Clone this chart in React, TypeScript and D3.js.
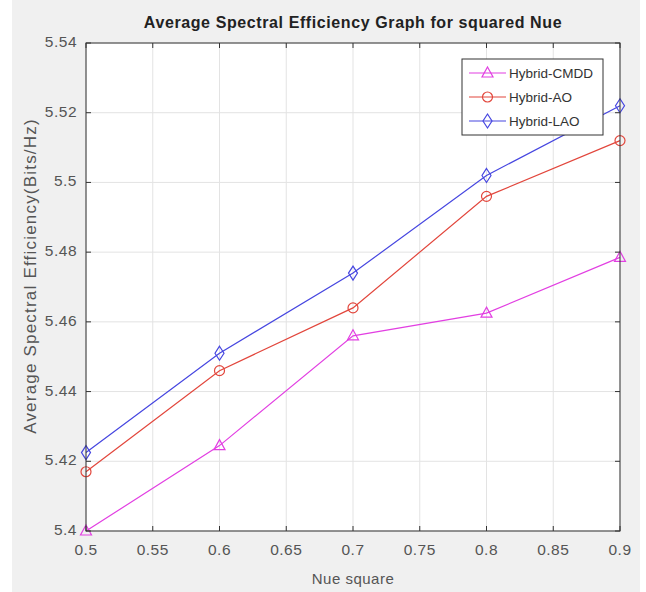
import React from "react";
import * as d3 from "d3";

const xValues = [0.5, 0.6, 0.7, 0.8, 0.9];
const cmdd = [5.4, 5.4245, 5.456, 5.4625, 5.4785];
const ao = [5.417, 5.446, 5.464, 5.496, 5.512];
const lao = [5.4225, 5.451, 5.474, 5.502, 5.522];
const seriesNames = ["Hybrid-CMDD", "Hybrid-AO", "Hybrid-LAO"];
const xTicks = [0.5, 0.55, 0.6, 0.65, 0.7, 0.75, 0.8, 0.85, 0.9];
const yTicks = [5.4, 5.42, 5.44, 5.46, 5.48, 5.5, 5.52, 5.54];

const W = 646, H = 592;
const L = 86, R = 620, T = 43, B = 531;
const FONT = "'Liberation Sans', Arial, sans-serif";

const series = [
  { name: seriesNames[0], values: cmdd, color: "#e23fe2", marker: "tri" },
  { name: seriesNames[1], values: ao, color: "#e2463c", marker: "circle" },
  { name: seriesNames[2], values: lao, color: "#4646e0", marker: "diamond" },
];

function Marker({ type, x, y, color }: { type: string; x: number; y: number; color: string }) {
  if (type === "circle") return <circle cx={x} cy={y} r={5} fill="none" stroke={color} strokeWidth={1.2} />;
  if (type === "tri")
    return <path d={`M${x},${y - 6}L${x + 5.5},${y + 4}L${x - 5.5},${y + 4}Z`} fill="none" stroke={color} strokeWidth={1.2} />;
  return <path d={`M${x},${y - 7}L${x + 4.5},${y}L${x},${y + 7}L${x - 4.5},${y}Z`} fill="none" stroke={color} strokeWidth={1.2} />;
}

export default function App() {
  const x = d3.scaleLinear().domain([0.5, 0.9]).range([L, R]);
  const y = d3.scaleLinear().domain([5.4, 5.54]).range([B, T]);
  const line = d3.line<number>().x((_, i) => x(xValues[i])).y((d) => y(d));
  const legX = 462, legY = 59, legW = 141, legH = 76;
  return (
    <svg width={W} height={H} style={{ position: "absolute", left: 0, top: 0, fontFamily: FONT }}>
      <rect x={0} y={0} width={W} height={H} fill="#ffffff" />
      <rect x={12} y={0} width={628} height={H} fill="#f0f0f0" />
      <rect x={L} y={T} width={R - L} height={B - T} fill="#ffffff" />
      {xTicks.map((t) => (
        <line key={"gx" + t} x1={x(t)} x2={x(t)} y1={T} y2={B} stroke="#e3e3e3" strokeWidth={1} />
      ))}
      {yTicks.map((t) => (
        <line key={"gy" + t} x1={L} x2={R} y1={y(t)} y2={y(t)} stroke="#e3e3e3" strokeWidth={1} />
      ))}
      {series.map((s) => (
        <g key={s.name}>
          <path d={line(s.values) || ""} fill="none" stroke={s.color} strokeWidth={1.2} />
          {s.values.map((v, i) => (
            <Marker key={i} type={s.marker} x={x(xValues[i])} y={y(v)} color={s.color} />
          ))}
        </g>
      ))}
      <rect x={L} y={T} width={R - L} height={B - T} fill="none" stroke="#333" strokeWidth={1} />
      {xTicks.map((t) => (
        <g key={"tx" + t}>
          <line x1={x(t)} x2={x(t)} y1={B} y2={B - 5} stroke="#333" />
          <line x1={x(t)} x2={x(t)} y1={T} y2={T + 5} stroke="#333" />
          <text x={x(t)} y={B + 24} textAnchor="middle" fontSize={15.5} letterSpacing={0.5} fill="#555">{String(t)}</text>
        </g>
      ))}
      {yTicks.map((t) => (
        <g key={"ty" + t}>
          <line x1={L} x2={L + 5} y1={y(t)} y2={y(t)} stroke="#333" />
          <line x1={R} x2={R - 5} y1={y(t)} y2={y(t)} stroke="#333" />
          <text x={L - 9} y={y(t) + 4} textAnchor="end" fontSize={15.5} letterSpacing={0.5} fill="#555">{String(t)}</text>
        </g>
      ))}
      <text x={(L + R) / 2} y={28} textAnchor="middle" fontSize={16} fontWeight="bold" letterSpacing={0.6} fill="#222">
        Average Spectral Efficiency Graph for squared Nue
      </text>
      <text x={(L + R) / 2} y={584} textAnchor="middle" fontSize={15} letterSpacing={0.5} fill="#555">Nue square</text>
      <text transform={`translate(36,276) rotate(-90)`} textAnchor="middle" fontSize={17} letterSpacing={1.2} fill="#555">
        Average Spectral Efficiency(Bits/Hz)
      </text>
      <g>
        <rect x={legX} y={legY} width={legW} height={legH} fill="#ffffff" stroke="#333" strokeWidth={1} />
        {series.map((s, i) => {
          const ly = legY + 14 + i * 24;
          return (
            <g key={"leg" + s.name}>
              <line x1={legX + 7} x2={legX + 44} y1={ly} y2={ly} stroke={s.color} strokeWidth={1.2} />
              <Marker type={s.marker} x={legX + 25.5} y={ly} color={s.color} />
              <text x={legX + 47} y={ly + 5} fontSize={13.5} fill="#333">{s.name}</text>
            </g>
          );
        })}
      </g>
    </svg>
  );
}
